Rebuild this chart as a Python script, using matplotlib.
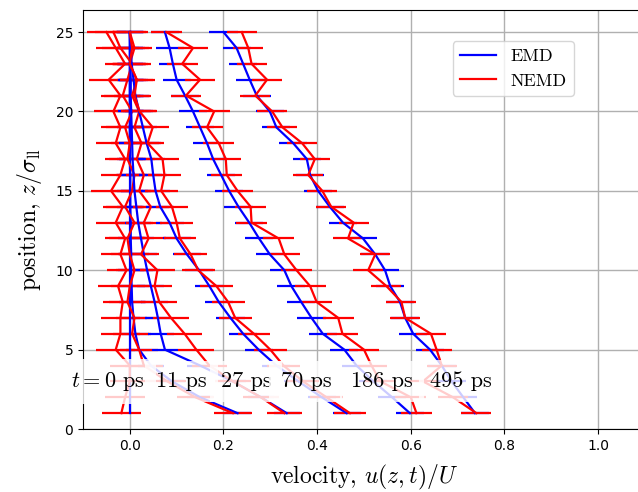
import matplotlib
matplotlib.use('Agg')
import matplotlib.pyplot as plt
from matplotlib.lines import Line2D

plt.rcParams['mathtext.fontset'] = 'cm'

# positions z / sigma_ll
z = [1, 2, 3, 4, 5, 6, 7, 8, 9, 10, 11, 12, 13, 14, 15, 16, 17, 18, 19, 20, 21, 22, 23, 24, 25]

times = ['$t=0$ ps', '11 ps', '27 ps', '70 ps', '186 ps', '495 ps']
label_x = [-0.047, 0.111, 0.248, 0.376, 0.539, 0.707]

# EMD profiles (blue)
emd_0 = [0.0] * 25
emd_11 = [0.23, 0.15, 0.09, 0.045, 0.02, 0.012, 0.008, 0.005, 0.004, 0.003, 0.003, 0.002, 0.002,
          0.001, 0.001, 0.001, 0.0, 0.0, 0.0, 0.0, 0.0, 0.0, 0.0, 0.0, 0.0]
emd_27 = [0.335, 0.28, 0.22, 0.15, 0.075, 0.066, 0.06, 0.053, 0.045, 0.037, 0.03, 0.024, 0.018,
          0.014, 0.01, 0.008, 0.006, 0.005, 0.004, 0.003, 0.002, 0.002, 0.001, 0.001, 0.0]
emd_70 = [0.463, 0.41, 0.36, 0.313, 0.275, 0.242, 0.215, 0.19, 0.17, 0.148, 0.122, 0.1, 0.085,
          0.065, 0.055, 0.05, 0.046, 0.036, 0.028, 0.02, 0.012, 0.008, 0.004, 0.002, 0.0]
emd_186 = [0.598, 0.56, 0.52, 0.484, 0.458, 0.412, 0.388, 0.366, 0.345, 0.33, 0.299, 0.276, 0.255,
           0.232, 0.212, 0.195, 0.178, 0.165, 0.15, 0.135, 0.118, 0.1, 0.092, 0.085, 0.075]
emd_495 = [0.737, 0.712, 0.687, 0.666, 0.641, 0.605, 0.588, 0.577, 0.556, 0.545, 0.524, 0.498, 0.455,
           0.427, 0.402, 0.385, 0.378, 0.349, 0.313, 0.299, 0.271, 0.256, 0.242, 0.228, 0.2]

# NEMD profiles (red)
nemd_0 = [-0.018, -0.01, 0.0, 0.0, -0.03, -0.02, -0.02, -0.015, -0.025, -0.007, -0.02, -0.01, -0.03,
          -0.015, -0.04, -0.02, -0.01, -0.03, -0.02, -0.035, -0.02, -0.045, -0.01, -0.03, -0.05]
nemd_11 = [0.22, 0.14, 0.08, 0.03, 0.02, 0.005, 0.01, -0.005, 0.0, 0.01, 0.0, -0.005, 0.01,
           -0.01, 0.005, 0.01, -0.005, 0.0, -0.01, 0.005, -0.015, -0.005, 0.005, -0.02, -0.035]
nemd_27 = [0.33, 0.28, 0.22, 0.17, 0.142, 0.117, 0.088, 0.063, 0.053, 0.059, 0.024, 0.04, 0.03,
           0.045, 0.02, 0.03, 0.015, 0.025, 0.01, 0.02, 0.005, 0.015, 0.0, 0.01, 0.0]
nemd_70 = [0.47, 0.42, 0.37, 0.328, 0.3, 0.265, 0.225, 0.21, 0.185, 0.146, 0.13, 0.107, 0.1,
           0.09, 0.067, 0.074, 0.07, 0.038, 0.049, 0.021, 0.01, 0.015, 0.0, 0.005, 0.0]
nemd_186 = [0.612, 0.6, 0.535, 0.516, 0.5, 0.454, 0.445, 0.399, 0.385, 0.356, 0.33, 0.318, 0.26,
            0.258, 0.23, 0.207, 0.205, 0.19, 0.165, 0.18, 0.12, 0.15, 0.112, 0.135, 0.078]
nemd_495 = [0.74, 0.69, 0.626, 0.666, 0.655, 0.643, 0.588, 0.58, 0.548, 0.509, 0.524, 0.466, 0.478,
            0.43, 0.411, 0.381, 0.395, 0.368, 0.326, 0.304, 0.268, 0.293, 0.26, 0.253, 0.239]

emd = [emd_0, emd_11, emd_27, emd_70, emd_186, emd_495]
nemd = [nemd_0, nemd_11, nemd_27, nemd_70, nemd_186, nemd_495]
emd_err = [0.0, 0.028, 0.028, 0.03, 0.03, 0.03]
nemd_err = [0.042, 0.04, 0.038, 0.035, 0.033, 0.032]

fig = plt.figure(figsize=(6.38, 4.92), dpi=100)
ax = fig.add_axes([0.130, 0.128, 0.881, 0.852])

for u_e, u_n, ee, en in zip(emd, nemd, emd_err, nemd_err):
    ax.errorbar(u_e, z, xerr=ee, color='blue', lw=1.6, elinewidth=1.6, capsize=0)
    ax.errorbar(u_n, z, xerr=en, color='red', lw=1.6, elinewidth=1.6, capsize=0)

for lab, xl in zip(times, label_x):
    ax.text(xl, 3, lab, ha='center', va='center', fontsize=16, family='cmr10',
            bbox=dict(facecolor='white', edgecolor='none', alpha=0.8, pad=8))

ax.set_xlim(-0.1, 1.1)
ax.set_ylim(0, 26.4)
ax.set_xticks([0.0, 0.2, 0.4, 0.6, 0.8, 1.0])
ax.set_yticks([0, 5, 10, 15, 20, 25])
ax.grid(True, color='#b0b0b0', lw=1.0)
ax.set_axisbelow(True)

ax.set_xlabel('velocity, $u(z,t)/U$', fontsize=17, family='cmr10', labelpad=7)
ax.set_ylabel('position, $z/\\sigma_{\\mathrm{ll}}$', fontsize=17, family='cmr10', labelpad=8)

handles = [Line2D([], [], color='blue', lw=1.6), Line2D([], [], color='red', lw=1.6)]
ax.legend(handles, ['EMD', 'NEMD'], loc='upper right',
          bbox_to_anchor=(0.873, 0.925), borderaxespad=0,
          prop={'family': 'cmr10', 'size': 13})

fig.savefig('out.png', dpi=100)
